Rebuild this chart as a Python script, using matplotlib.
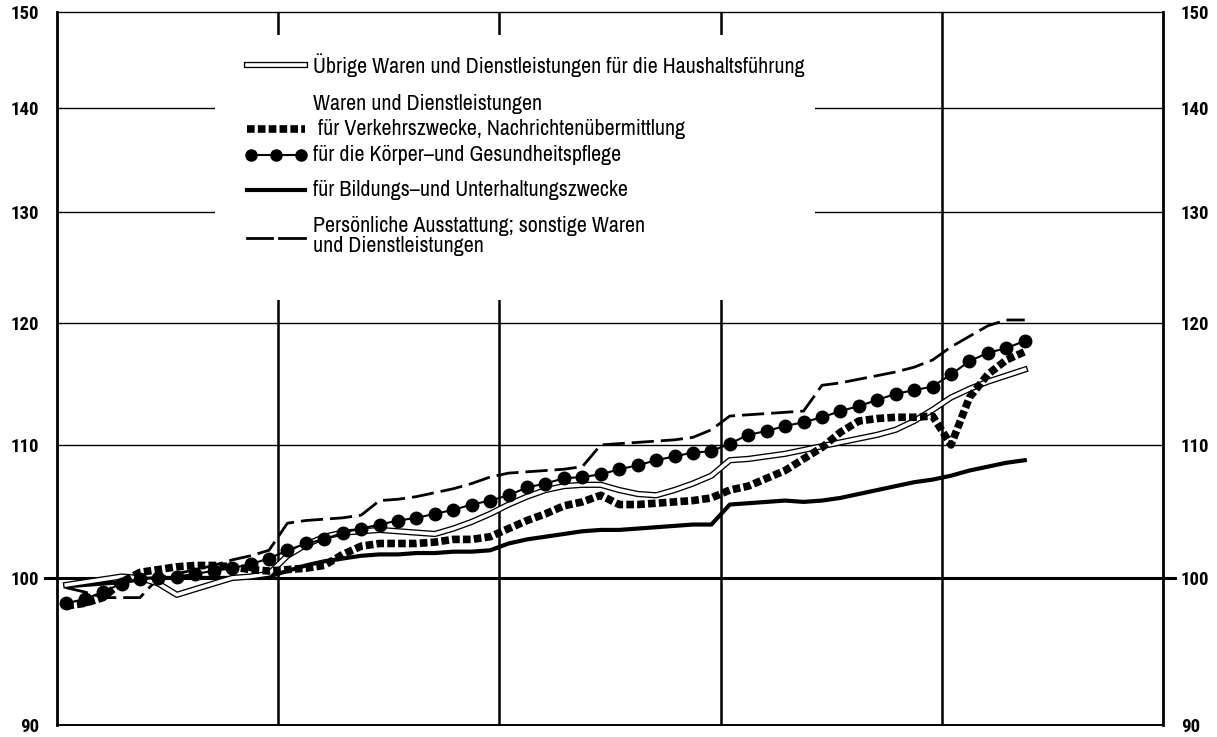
import matplotlib
matplotlib.use('Agg')
import matplotlib.pyplot as plt
from matplotlib.patches import Rectangle
from matplotlib.ticker import NullLocator
import numpy as np

# monthly index values, 53 months (Jan of year 1 .. May of year 5)
months = np.arange(53) + 0.5
year_lines = [12, 24, 36, 48]
y_ticks = [90, 100, 110, 120, 130, 140, 150]

uebrige = [99.5, 99.7, 99.9, 100.1, 100.0, 99.6, 98.8, 99.2, 99.6, 100.0, 100.1, 100.3,
           101.6, 102.4, 103.0, 103.3, 103.4, 103.5, 103.4, 103.3, 103.2, 103.6, 104.1, 104.7,
           105.4, 106.0, 106.5, 106.8, 106.9, 106.9, 106.5, 106.2, 106.1, 106.5, 107.0, 107.6,
           108.8, 108.9, 109.1, 109.3, 109.6, 109.9, 110.2, 110.5, 110.8, 111.2, 111.9, 112.8,
           113.8, 114.5, 115.1, 115.6, 116.1]
verkehr = [98.0, 98.2, 98.6, 99.7, 100.4, 100.6, 100.8, 100.9, 100.9, 100.8, 100.6, 100.5,
           100.6, 100.7, 100.9, 101.7, 102.3, 102.5, 102.5, 102.5, 102.6, 102.8, 102.8, 103.0,
           103.6, 104.2, 104.7, 105.3, 105.6, 106.1, 105.4, 105.4, 105.5, 105.6, 105.7, 105.9,
           106.5, 106.8, 107.4, 108.0, 108.9, 109.8, 111.0, 111.9, 112.1, 112.2, 112.2, 112.3,
           110.0, 113.8, 115.7, 116.9, 117.6]
koerper = [98.2, 98.5, 99.0, 99.6, 99.9, 100.0, 100.1, 100.3, 100.5, 100.7, 101.0, 101.4,
           102.0, 102.5, 102.8, 103.3, 103.6, 103.9, 104.2, 104.4, 104.7, 105.0, 105.4, 105.7,
           106.1, 106.7, 107.0, 107.4, 107.5, 107.7, 108.1, 108.4, 108.8, 109.1, 109.4, 109.5,
           110.1, 110.8, 111.1, 111.5, 111.8, 112.2, 112.7, 113.1, 113.6, 114.1, 114.4, 114.7,
           115.7, 116.8, 117.5, 117.9, 118.5]
bildung = [99.4, 99.5, 99.6, 99.7, 99.9, 100.0, 100.0, 100.0, 100.0, 100.0, 100.0, 100.1,
           100.5, 100.9, 101.2, 101.4, 101.6, 101.7, 101.7, 101.8, 101.8, 101.9, 101.9, 102.0,
           102.5, 102.8, 103.0, 103.2, 103.4, 103.5, 103.5, 103.6, 103.7, 103.8, 103.9, 103.9,
           105.4, 105.5, 105.6, 105.7, 105.6, 105.7, 105.9, 106.2, 106.5, 106.8, 107.1, 107.3,
           107.6, 108.0, 108.3, 108.6, 108.8]
persoenlich = [99.3, 99.0, 98.6, 98.6, 98.6, 100.0, 100.3, 100.6, 100.9, 101.3, 101.6, 102.0,
               104.0, 104.2, 104.3, 104.4, 104.6, 105.7, 105.8, 106.0, 106.3, 106.6, 107.0, 107.5,
               107.8, 107.9, 108.0, 108.1, 108.3, 110.0, 110.1, 110.2, 110.3, 110.4, 110.6, 111.2,
               112.3, 112.4, 112.5, 112.6, 112.7, 114.8, 115.0, 115.3, 115.6, 115.9, 116.3, 116.9,
               118.0, 118.9, 119.8, 120.3, 120.3]

label_uebrige = "Übrige Waren und Dienstleistungen für die Haushaltsführung"
label_header = "Waren und Dienstleistungen"
label_verkehr = " für Verkehrszwecke, Nachrichtenübermittlung"
label_koerper = "für die Körper–und Gesundheitspflege"
label_bildung = "für Bildungs–und Unterhaltungszwecke"
label_persoenlich = "Persönliche Ausstattung; sonstige Waren\nund Dienstleistungen"

plt.rcParams['font.family'] = ['Roboto Condensed', 'DejaVu Sans']
LEGEND_FONT = ['Archivo Narrow', 'Roboto Condensed', 'DejaVu Sans']

W, H = 1217, 737
fig = plt.figure(figsize=(W / 100, H / 100), dpi=100)
ax = fig.add_axes([57 / W, 12 / H, 1106 / W, 713 / H])

ax.set_yscale('log')
ax.set_xlim(0, 60)
ax.set_ylim(90, 150)
ax.set_yticks(y_ticks, [str(t) for t in y_ticks])
ax.yaxis.set_minor_locator(NullLocator())
ax.set_xticks([])
ax.tick_params(axis='y', length=0, pad=13, labelsize=13.5, labelright=True)
for lab in ax.get_yticklabels():
    lab.set_fontweight('bold')

for s in ['left', 'right']:
    ax.spines[s].set_linewidth(2)
ax.spines['top'].set_linewidth(1)
ax.spines['bottom'].set_linewidth(1.4)

# grid
for t in y_ticks[2:-1]:
    ax.axhline(t, color='black', lw=1, zorder=1)
ax.axhline(100, xmin=-0.011, xmax=1.011, color='black', lw=2.2, zorder=1, clip_on=False)
for x in year_lines:
    ax.axvline(x, color='black', lw=1.8, zorder=1)


def axx(px):
    return (px - 57) / 1106


def axy(py):
    return (725 - py) / 713


# white area behind the legend
ax.add_patch(Rectangle((axx(215), axy(300)), axx(815) - axx(215), axy(35) - axy(300),
                       transform=ax.transAxes, facecolor='white', edgecolor='none', zorder=1.5))

# series
ax.plot(months, bildung, color='black', lw=3, zorder=3)
ax.plot(months, persoenlich, color='black', lw=2, linestyle=(0, (8, 2.5)), zorder=3)
ax.plot(months, uebrige, color='black', lw=4.5, zorder=3)
ax.plot(months, uebrige, color='white', lw=2.6, zorder=3.1)
ax.plot(months, verkehr, color='black', lw=5.5, linestyle=(0, (1.0, 0.42)),
        dash_capstyle='butt', zorder=3.2)
ax.plot(months, koerper, color='black', lw=1.5, marker='o', markersize=9, zorder=3.3)

# legend, drawn by hand
tr = ax.transAxes
h0, h1 = axx(247), axx(305)
tx = axx(313)
kw = dict(transform=tr, clip_on=False, zorder=5)

# size the legend text so the longest line is as wide as in the original
probe = fig.text(0, 0, label_uebrige, fontsize=13, family=LEGEND_FONT)
fig.canvas.draw()
fs = 13 * 494 / probe.get_window_extent().width
probe.remove()
tkw = dict(fontsize=fs, family=LEGEND_FONT, va='center', transform=tr, zorder=5)

y = axy(65)
ax.plot([h0, h1], [y, y], color='black', lw=4.5, **kw)
ax.plot([h0, h1], [y, y], color='white', lw=2.6, **kw)
ax.text(tx, y, label_uebrige, **tkw)

ax.text(tx, axy(104), label_header, **tkw)

y = axy(129)
ax.plot([h0, h1], [y, y], color='black', lw=5.5, linestyle=(0, (1.0, 0.42)),
        dash_capstyle='butt', **kw)
ax.text(tx, y, label_verkehr, **tkw)

y = axy(155)
ax.plot([axx(251), axx(276), axx(301)], [y, y, y], color='black', lw=1.5,
        marker='o', markersize=8, **kw)
ax.text(tx, y, label_koerper, **tkw)

y = axy(190)
ax.plot([h0, h1], [y, y], color='black', lw=3, **kw)
ax.text(tx, y, label_bildung, **tkw)

y = axy(238)
ax.plot([h0, axx(272), np.nan, axx(279), h1], [y] * 5, color='black', lw=2, **kw)
ax.text(tx, axy(236), label_persoenlich, linespacing=0.95, **tkw)

fig.savefig('out.png', dpi=100)
